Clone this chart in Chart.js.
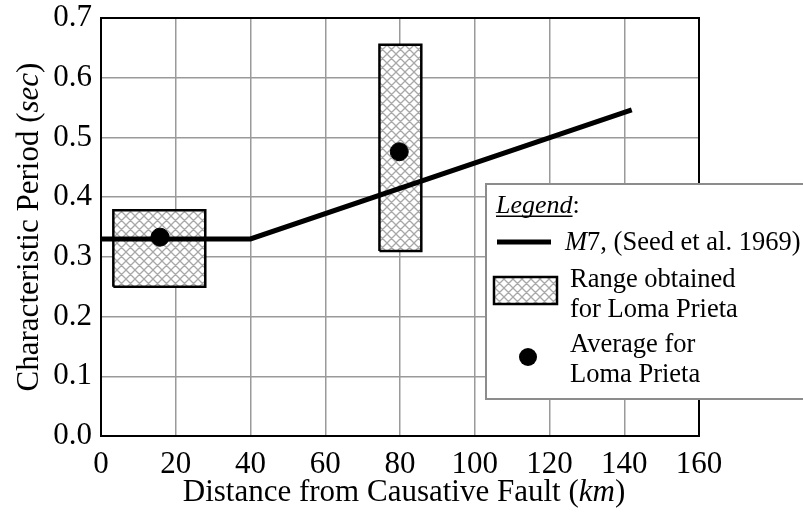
<!DOCTYPE html>
<html lang="en">
<head>
    <meta charset="UTF-8">
    <title>Characteristic Period vs Distance</title>
    <script src="https://cdn.jsdelivr.net/npm/chart.js"></script>
    <style>
        html, body { margin: 0; padding: 0; background: #fff; }
        #wrap { width: 803px; height: 514px; }
    </style>
</head>
<body>
    <div id="wrap"><canvas id="periodChart" width="803" height="514"></canvas></div>

    <script>
        // Axis ticks
        const xTicks = [0, 20, 40, 60, 80, 100, 120, 140, 160];
        const yTicks = [0.0, 0.1, 0.2, 0.3, 0.4, 0.5, 0.6, 0.7];

        // M7 curve (Seed et al. 1969)
        const seedX = [0, 40, 142];
        const seedY = [0.33, 0.33, 0.546];

        // Ranges obtained for Loma Prieta: [from, to]
        const rangeX = [[3.3, 27.9], [74.5, 85.7]];
        const rangeY = [[0.25, 0.378], [0.31, 0.655]];

        // Averages for Loma Prieta
        const avgX = [15.8, 79.8];
        const avgY = [0.333, 0.476];

        const legendLabels = ['M7, (Seed et al. 1969)', 'Range obtained|for Loma Prieta', 'Average for|Loma Prieta'];

        const SERIF = "'Liberation Serif', 'Times New Roman', serif";

        const canvas = document.getElementById('periodChart');
        const ctx = canvas.getContext('2d');

        // gray cross-hatch fill
        function makeHatch() {
            const s = 9;
            const c = document.createElement('canvas');
            c.width = s; c.height = s;
            const g = c.getContext('2d');
            g.fillStyle = '#fff';
            g.fillRect(0, 0, s, s);
            g.strokeStyle = '#a8a8a8';
            g.lineWidth = 1.3;
            g.beginPath();
            for (const o of [-s, 0, s]) {
                g.moveTo(o, 0); g.lineTo(o + s, s);
                g.moveTo(o + s, 0); g.lineTo(o, s);
            }
            g.stroke();
            return ctx.createPattern(c, 'repeat');
        }
        const hatch = makeHatch();

        function rectPoints(xr, yr) {
            return [
                { x: xr[0], y: yr[0] }, { x: xr[1], y: yr[0] },
                { x: xr[1], y: yr[1] }, { x: xr[0], y: yr[1] },
                { x: xr[0], y: yr[0] }
            ];
        }

        const rangeSets = rangeX.map((xr, i) => ({
            label: 'range' + i,
            data: rectPoints(xr, rangeY[i]),
            showLine: true,
            borderColor: '#000',
            borderWidth: 2.5,
            backgroundColor: hatch,
            fill: 'shape',
            pointRadius: 0,
            tension: 0,
            order: 2
        }));

        // draws the plot frame, axis titles and the boxed legend
        const decorations = {
            id: 'decorations',
            afterDatasetsDraw(chart) {
                const a = chart.chartArea;
                const c = chart.ctx;
                c.save();
                c.strokeStyle = '#000';
                c.lineWidth = 2;
                c.strokeRect(a.left, a.top, a.right - a.left, a.bottom - a.top);
                c.restore();
            },
            afterDraw(chart) {
                const c = chart.ctx;
                c.save();
                c.fillStyle = '#000';
                c.textBaseline = 'alphabetic';

                // x axis title
                drawMixed(c, [['Distance from Causative Fault (', false], ['km', true], [')', false]], 404, 501, 31);

                // y axis title
                c.save();
                c.translate(38, 227);
                c.rotate(-Math.PI / 2);
                drawMixed(c, [['Characteristic Period (', false], ['sec', true], [')', false]], 0, 0, 31);
                c.restore();

                // legend box
                const lx = 486, ly = 184, lw = 330, lh = 215;
                c.fillStyle = '#fff';
                c.fillRect(lx, ly, lw, lh);
                c.strokeStyle = '#8c8c8c';
                c.lineWidth = 2;
                c.strokeRect(lx, ly, lw, lh);

                c.fillStyle = '#000';
                c.font = 'italic 26px ' + SERIF;
                const hw = c.measureText('Legend').width;
                c.fillText('Legend', 496, 213);
                c.font = '26px ' + SERIF;
                c.fillText(':', 496 + hw, 213);
                c.fillRect(496, 215.5, hw, 1.5);

                // line sample
                const lineSet = chart.data.datasets[1];
                c.strokeStyle = lineSet.borderColor;
                c.lineWidth = lineSet.borderWidth;
                c.beginPath();
                c.moveTo(497, 242);
                c.lineTo(551, 242);
                c.stroke();
                drawMixed(c, [['M', true], ['7, (Seed et al. 1969)', false]], 565, 250, 26.5, 'left');

                // hatched box sample
                c.fillStyle = hatch;
                c.fillRect(494, 277, 63, 27);
                c.strokeStyle = '#000';
                c.lineWidth = 2.5;
                c.strokeRect(494, 277, 63, 27);
                c.fillStyle = '#000';
                c.font = '26.5px ' + SERIF;
                const rl = legendLabels[1].split('|');
                c.fillText(rl[0], 570, 287);
                c.fillText(rl[1], 570, 317);

                // dot sample
                const dotSet = chart.data.datasets[0];
                c.beginPath();
                c.arc(528, 357, dotSet.pointRadius, 0, Math.PI * 2);
                c.fill();
                const al = legendLabels[2].split('|');
                c.fillText(al[0], 570, 352);
                c.fillText(al[1], 570, 382);

                c.restore();
            }
        };

        function drawMixed(c, parts, x, y, size, align) {
            let total = 0;
            const widths = parts.map(([t, it]) => {
                c.font = (it ? 'italic ' : '') + size + 'px ' + SERIF;
                const w = c.measureText(t).width;
                total += w;
                return w;
            });
            let cx = align === 'left' ? x : x - total / 2;
            c.textAlign = 'left';
            parts.forEach(([t, it], i) => {
                c.font = (it ? 'italic ' : '') + size + 'px ' + SERIF;
                c.fillText(t, cx, y);
                cx += widths[i];
            });
        }

        new Chart(ctx, {
            type: 'scatter',
            data: {
                datasets: [
                    {
                        label: 'Average for Loma Prieta',
                        data: avgX.map((x, i) => ({ x, y: avgY[i] })),
                        backgroundColor: '#000',
                        borderColor: '#000',
                        pointRadius: 9,
                        order: 0
                    },
                    {
                        label: 'M7, (Seed et al. 1969)',
                        data: seedX.map((x, i) => ({ x, y: seedY[i] })),
                        showLine: true,
                        borderColor: '#000',
                        borderWidth: 5,
                        pointRadius: 0,
                        tension: 0,
                        fill: false,
                        order: 1
                    },
                    ...rangeSets
                ]
            },
            options: {
                responsive: false,
                animation: false,
                events: [],
                layout: { padding: { top: 18, right: 104, left: 0, bottom: 0 } },
                plugins: {
                    legend: { display: false },
                    tooltip: { enabled: false }
                },
                scales: {
                    x: {
                        type: 'linear',
                        min: xTicks[0],
                        max: xTicks[xTicks.length - 1],
                        afterBuildTicks: s => { s.ticks = xTicks.map(v => ({ value: v })); },
                        afterFit: s => { s.height = 78; s.paddingLeft = 0; s.paddingRight = 0; },
                        grid: { color: '#9a9a9a', lineWidth: 1.5, drawTicks: false },
                        border: { display: false },
                        ticks: {
                            color: '#000',
                            padding: 10,
                            maxRotation: 0,
                            font: { family: SERIF, size: 31 }
                        }
                    },
                    y: {
                        type: 'linear',
                        min: yTicks[0],
                        max: yTicks[yTicks.length - 1],
                        afterBuildTicks: s => { s.ticks = yTicks.map(v => ({ value: v })); },
                        afterFit: s => { s.width = 101; s.paddingTop = 0; s.paddingBottom = 0; },
                        grid: { color: '#9a9a9a', lineWidth: 1.5, drawTicks: false },
                        border: { display: false },
                        ticks: {
                            color: '#000',
                            padding: 9,
                            callback: v => v.toFixed(1),
                            font: { family: SERIF, size: 31 }
                        }
                    }
                }
            },
            plugins: [decorations]
        });
    </script>
</body>
</html>
